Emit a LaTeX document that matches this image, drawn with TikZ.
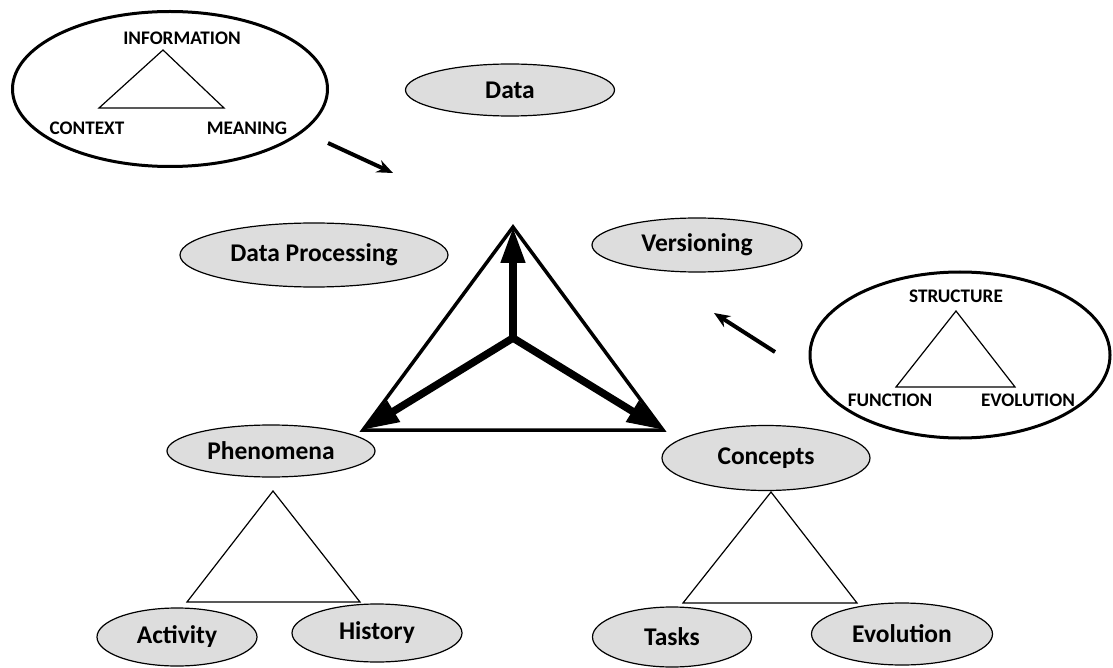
\documentclass[tikz,border=0pt]{standalone}
\usepackage{fontspec}
\setmainfont{Carlito}
\usetikzlibrary{shapes.geometric,arrows.meta,positioning}
\definecolor{ellgray}{RGB}{221,221,221}
\tikzset{
    topic/.style ={ellipse, draw, fill=ellgray, line width=1.2pt, inner sep=0pt,
                   font=\bfseries\fontsize{25.5}{30}\selectfont},
    frame/.style ={ellipse, draw, line width=3pt, inner sep=0pt},
    word/.style = {inner sep=0pt, font=\bfseries\fontsize{19.2}{23}\selectfont},
    side/.style = {line width=1.2pt},
    bigside/.style = {line width=3.5pt},
    push/.style = {line width=7.5pt, -{Triangle[length=36pt,width=23pt]}},
    hint/.style = {line width=4pt, -{Stealth[length=16pt,width=13pt]}}
}

\begin{document}
\begin{tikzpicture}[x=1pt,y=-1pt]
    \useasboundingbox (0,0) rectangle (1113,668);

    % upper left frame
    \node (info) at (170,89) [frame, minimum width=315pt, minimum height=155pt] {};
    \node (inf) at (182,38) [word] {INFORMATION};
    \node (ctx) at (87,128) [word] {CONTEXT};
    \node (mng) at (247,128) [word] {MEANING};
    \coordinate (i1) at (163,50);
    \coordinate (i2) at (99,108);
    \coordinate (i3) at (224,108);
    \draw[side] (i1) -- (i2) -- (i3) -- cycle;

    % right frame
    \node (struc) at (960,355) [frame, minimum width=300pt, minimum height=166pt] {};
    \node (str) at (956,296) [word] {STRUCTURE};
    \node (fun) at (890,400) [word] {FUNCTION};
    \node (evo) at (1028,400) [word] {EVOLUTION};
    \coordinate (s1) at (956,311);
    \coordinate (s2) at (896,387);
    \coordinate (s3) at (1015,387);
    \draw[side] (s1) -- (s2) -- (s3) -- cycle;

    \node (data) at (510,90) [topic, minimum width=209pt, minimum height=52pt] {Data};
    \node (proc) at (314,255) [topic, minimum width=268pt, minimum height=64pt] {Data Processing};
    \node (vers) at (697,245) [topic, minimum width=210pt, minimum height=54pt] {Versioning};
    \node (phen) at (271,451) [topic, minimum width=208pt, minimum height=52pt] {Phenomena};
    \node (conc) at (766,458) [topic, minimum width=208pt, minimum height=65pt] {Concepts};
    \node (act) at (177,637) [topic, minimum width=160pt, minimum height=58pt] {Activity};
    \node (hist) at (377,633) [topic, minimum width=170pt, minimum height=58pt] {History};
    \node (task) at (672,637) [topic, minimum width=159pt, minimum height=60pt] {Tasks};
    \node (evol) at (902,634) [topic, minimum width=181pt, minimum height=62pt] {Evolution};

    % centre triangle
    \coordinate (t1) at (513,227);
    \coordinate (t2) at (363,430);
    \coordinate (t3) at (663,430);
    \coordinate (tc) at (513,338);
    \draw[bigside] (t1) -- (t2) -- (t3) -- cycle;
    \draw[push] (tc) -- (t1);
    \draw[push] (tc) -- (t2);
    \draw[push] (tc) -- (t3);

    % lower triangles
    \coordinate (p1) at (273,491);
    \coordinate (p2) at (187,602);
    \coordinate (p3) at (360,602);
    \draw[side] (p1) -- (p2) -- (p3) -- cycle;
    \coordinate (c1) at (771,492);
    \coordinate (c2) at (683,603);
    \coordinate (c3) at (857,603);
    \draw[side] (c1) -- (c2) -- (c3) -- cycle;

    % pointers
    \coordinate (a1) at (328,143);
    \coordinate (a2) at (393,173);
    \coordinate (b1) at (775,352);
    \coordinate (b2) at (714,313);
    \draw[hint] (a1) -- (a2);
    \draw[hint] (b1) -- (b2);
\end{tikzpicture}
\end{document}
